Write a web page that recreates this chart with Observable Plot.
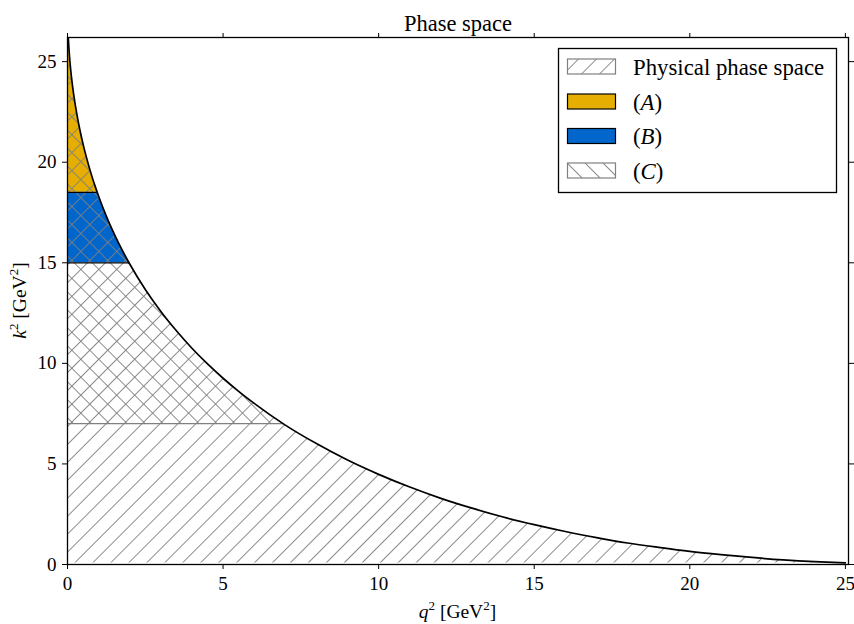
<!DOCTYPE html>
<html>
<head>
<meta charset="utf-8">
<script src="https://cdn.jsdelivr.net/npm/d3@7"></script>
<script src="https://cdn.jsdelivr.net/npm/@observablehq/plot@0.6"></script>
<style>
  html, body { margin: 0; padding: 0; background: #fff; }
  #chart svg { display: block; }
</style>
</head>
<body>
<div id="chart"></div>
<script>
// ---- data ----
const q2 = [0, 0.01, 0.03, 0.06, 0.1, 0.15, 0.2, 0.3, 0.4, 0.5, 0.6, 0.75, 0.9, 1.0, 1.25, 1.5, 1.75, 2.0, 2.5, 3, 3.5, 4, 4.5, 5, 5.5, 6, 7, 8, 9, 10, 11, 12, 13, 14, 15, 16, 17, 18, 19, 20, 21, 22, 23, 24, 25];
const k2 = [27.87, 26.82, 26.07, 25.34, 24.63, 23.93, 23.35, 22.39, 21.59, 20.90, 20.29, 19.47, 18.75, 18.31, 17.31, 16.44, 15.65, 14.94, 13.67, 12.58, 11.62, 10.75, 9.97, 9.26, 8.61, 8.01, 6.93, 6.01, 5.19, 4.48, 3.85, 3.29, 2.80, 2.36, 1.98, 1.64, 1.34, 1.07, 0.85, 0.65, 0.49, 0.35, 0.23, 0.14, 0.078];
const kMin = 0.078;

const regionNames = ["(A)", "(B)", "(C)"];
const regionLow   = [18.5, 15, 7];
const regionHigh  = [30, 18.5, 30];
const regionEnd   = [0.95, 2.05, 7.0];
const regionFill  = ["#e5ae00", "#0066cc", "url(#hatchBack)"];
const regionEdge  = ["black", "black", "#808080"];

const xTicks = [0, 5, 10, 15, 20, 25];
const yTicks = [0, 5, 10, 15, 20, 25];
const xDomain = [0, 25.1];
const yDomain = [0, 26.2];

const titleText = "Phase space";
const legendNames = ["Physical phase space", "(A)", "(B)", "(C)"];

// ---- tables built from the arrays ----
const curve = q2.map((x, i) => ({q2: x, k2: k2[i]}));
const regions = regionNames.map((name, i) => ({
  name, low: regionLow[i], high: regionHigh[i], end: regionEnd[i],
  fill: regionFill[i], edge: regionEdge[i]
}));
const solid = regions.slice(0, 2);
const hatched = regions.slice(2);

const W = 854, H = 624;
const mL = 67, mR = 6, mT = 37, mB = 60;
const font = "'Liberation Serif', 'Times New Roman', serif";

const chart = Plot.plot({
  width: W, height: H,
  marginLeft: mL, marginRight: mR, marginTop: mT, marginBottom: mB,
  style: {fontFamily: font, fontSize: "19px", color: "black", background: "white"},
  x: {domain: xDomain},
  y: {domain: yDomain},
  color: {type: "identity"},
  marks: [
    Plot.rect(solid, {x1: 0, x2: "end", y1: "low", y2: "high", fill: "fill", clip: true}),
    Plot.areaY(curve, {x: "q2", y1: kMin, y2: "k2", fill: "url(#hatchFwd)", curve: "monotone-x", clip: true}),
    Plot.rect(hatched, {x1: 0, x2: "end", y1: "low", y2: "high", fill: "fill", clip: true}),
    Plot.ruleY(regions, {y: "low", x1: 0, x2: "end", stroke: "edge", strokeWidth: 1.2, clip: true}),
    Plot.areaY(curve, {x: "q2", y1: "k2", y2: 30, fill: "white", curve: "monotone-x", clip: true}),
    Plot.line(curve, {x: "q2", y: "k2", stroke: "black", strokeWidth: 1.7, curve: "monotone-x", clip: true}),
    Plot.frame({stroke: "black", strokeWidth: 1.3}),
    Plot.axisX({anchor: "bottom", ticks: xTicks, tickSize: 5, tickPadding: 7, label: null, fontSize: 19}),
    Plot.axisX({anchor: "top", ticks: xTicks, tickSize: 5, tickFormat: () => "", label: null}),
    Plot.axisY({anchor: "left", ticks: yTicks, tickSize: 5, tickPadding: 6, label: null, fontSize: 19}),
    Plot.axisY({anchor: "right", ticks: yTicks, tickSize: 5, tickFormat: () => "", label: null}),
    Plot.text([titleText], {frameAnchor: "top", dy: -14, lineAnchor: "middle", fontSize: 22.5, fill: "black"})
  ]
});

document.getElementById("chart").appendChild(chart);

// ---- hatch patterns ----
const svg = d3.select(chart);
const defs = svg.insert("defs", ":first-child");
function hatch(id, angle) {
  const s = 12.7;
  const p = defs.append("pattern")
    .attr("id", id)
    .attr("patternUnits", "userSpaceOnUse")
    .attr("width", s).attr("height", s)
    .attr("patternTransform", `rotate(${angle})`);
  p.append("line")
    .attr("x1", s / 2).attr("x2", s / 2)
    .attr("y1", -1).attr("y2", s + 1)
    .attr("stroke", "#808080").attr("stroke-width", 0.9);
}
hatch("hatchFwd", 45);
hatch("hatchBack", -45);

// ---- axis labels with superscripts ----
function labelText(sel, letter) {
  sel.append("tspan").attr("font-style", "italic").text(letter);
  sel.append("tspan").attr("dy", -8).attr("font-size", 13).text("2");
  sel.append("tspan").attr("dy", 8).text(" [GeV");
  sel.append("tspan").attr("dy", -8).attr("font-size", 13).text("2");
  sel.append("tspan").attr("dy", 8).text("]");
}
const frameCx = mL + (W - mL - mR) / 2;
const frameCy = mT + (H - mT - mB) / 2;
const xl = svg.append("text")
  .attr("x", frameCx).attr("y", 618)
  .attr("text-anchor", "middle")
  .attr("font-family", font).attr("font-size", 19.5).attr("fill", "black");
labelText(xl, "q");
const yl = svg.append("text")
  .attr("transform", `translate(26,${frameCy}) rotate(-90)`)
  .attr("text-anchor", "middle")
  .attr("font-family", font).attr("font-size", 19.5).attr("fill", "black");
labelText(yl, "k");

// ---- legend ----
const lg = svg.append("g").attr("font-family", font).attr("font-size", 22.8).attr("text-anchor", "start");
lg.append("rect").attr("x", 558.5).attr("y", 48.5).attr("width", 278).attr("height", 144)
  .attr("fill", "white").attr("stroke", "black").attr("stroke-width", 1.3);
const rowY = [66.5, 101.5, 136, 170.5];
const patchFill = ["url(#hatchFwd)", regionFill[0], regionFill[1], regionFill[2]];
const patchEdge = ["#808080", "black", "black", "#808080"];
legendNames.forEach((name, i) => {
  lg.append("rect").attr("x", 567.5).attr("y", rowY[i] - 7.5).attr("width", 48).attr("height", 15)
    .attr("fill", "white").attr("stroke", "none");
  lg.append("rect").attr("x", 567.5).attr("y", rowY[i] - 7.5).attr("width", 48).attr("height", 15)
    .attr("fill", patchFill[i]).attr("stroke", patchEdge[i]).attr("stroke-width", 1.2);
  const t = lg.append("text").attr("x", 633).attr("y", rowY[i] + 8).attr("fill", "black").attr("text-anchor", "start");
  const m = name.match(/^\((.)\)$/);
  if (m) {
    t.append("tspan").text("(");
    t.append("tspan").attr("font-style", "italic").text(m[1]);
    t.append("tspan").text(")");
  } else {
    t.text(name);
  }
});
</script>
</body>
</html>
